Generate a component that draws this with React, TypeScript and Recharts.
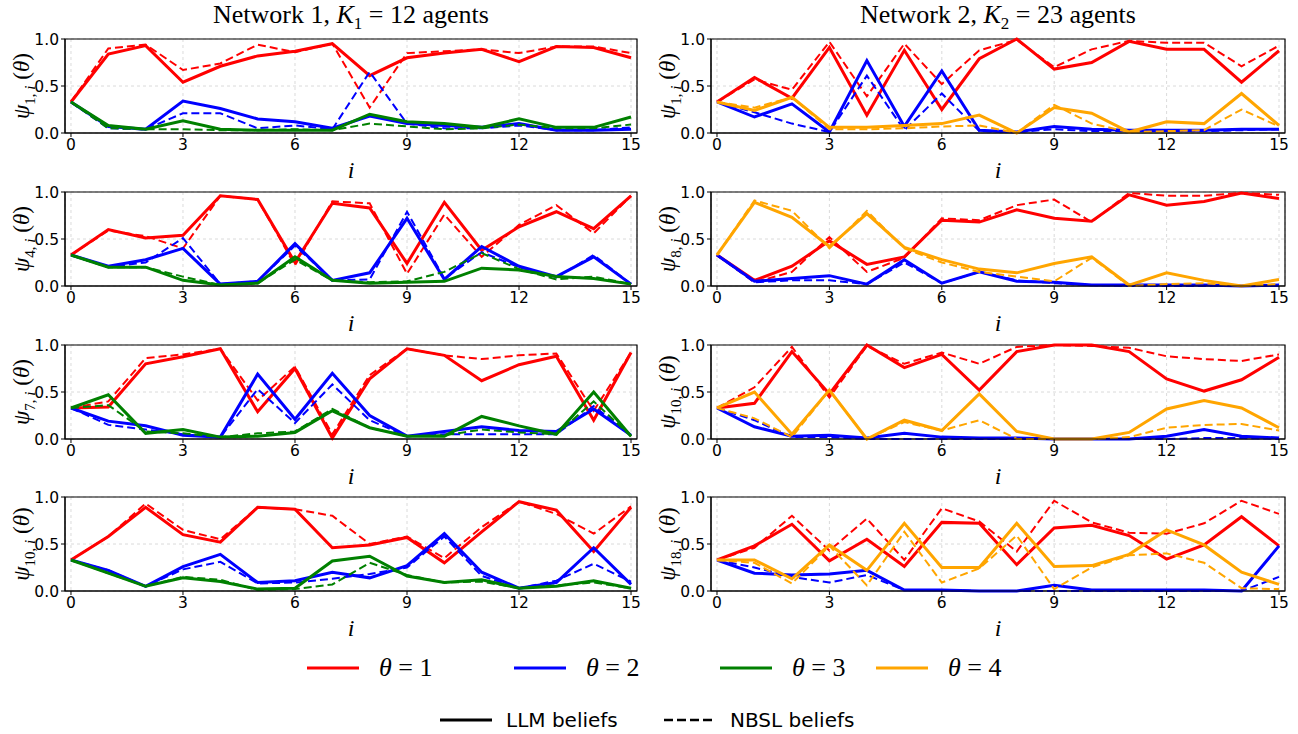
import React from "react";
import { LineChart, Line, XAxis, YAxis, CartesianGrid, ReferenceArea } from "recharts";

const steps = [0, 1, 2, 3, 4, 5, 6, 7, 8, 9, 10, 11, 12, 13, 14, 15];
const xTicks = [0, 3, 6, 9, 12, 15];
const yTicks = [0, 0.5, 1];

// Network 1, agent 1
const n1a1RedLLM = [0.33, 0.84, 0.93, 0.54, 0.71, 0.82, 0.87, 0.95, 0.61, 0.8, 0.85, 0.89, 0.76, 0.92, 0.91, 0.8];
const n1a1RedNBSL = [0.33, 0.9, 0.94, 0.67, 0.74, 0.94, 0.86, 0.95, 0.27, 0.85, 0.87, 0.89, 0.85, 0.92, 0.92, 0.85];
const n1a1BlueLLM = [0.33, 0.07, 0.04, 0.34, 0.26, 0.15, 0.12, 0.05, 0.18, 0.1, 0.08, 0.06, 0.1, 0.03, 0.03, 0.04];
const n1a1BlueNBSL = [0.33, 0.05, 0.04, 0.21, 0.21, 0.05, 0.08, 0.04, 0.65, 0.1, 0.05, 0.05, 0.08, 0.03, 0.03, 0.06];
const n1a1GreenLLM = [0.33, 0.08, 0.04, 0.13, 0.04, 0.03, 0.03, 0.03, 0.2, 0.12, 0.1, 0.06, 0.15, 0.06, 0.06, 0.17];
const n1a1GreenNBSL = [0.33, 0.05, 0.04, 0.04, 0.03, 0.03, 0.04, 0.03, 0.1, 0.07, 0.04, 0.05, 0.09, 0.05, 0.05, 0.09];

// Network 1, agent 4
const n1a4RedLLM = [0.33, 0.6, 0.51, 0.54, 0.96, 0.92, 0.25, 0.88, 0.83, 0.24, 0.89, 0.38, 0.63, 0.79, 0.61, 0.96];
const n1a4RedNBSL = [0.33, 0.59, 0.53, 0.4, 0.96, 0.92, 0.22, 0.9, 0.88, 0.13, 0.76, 0.31, 0.65, 0.86, 0.56, 0.96];
const n1a4BlueLLM = [0.33, 0.21, 0.28, 0.4, 0.02, 0.05, 0.45, 0.06, 0.14, 0.72, 0.07, 0.42, 0.21, 0.1, 0.31, 0.02];
const n1a4BlueNBSL = [0.33, 0.2, 0.25, 0.51, 0.02, 0.05, 0.43, 0.06, 0.07, 0.79, 0.08, 0.36, 0.2, 0.09, 0.33, 0.02];
const n1a4GreenLLM = [0.33, 0.2, 0.2, 0.06, 0.01, 0.03, 0.31, 0.06, 0.03, 0.04, 0.05, 0.19, 0.17, 0.1, 0.08, 0.02];
const n1a4GreenNBSL = [0.33, 0.2, 0.2, 0.1, 0.01, 0.03, 0.28, 0.06, 0.04, 0.05, 0.15, 0.35, 0.18, 0.07, 0.1, 0.02];

// Network 1, agent 7
const n1a7RedLLM = [0.33, 0.34, 0.8, 0.875, 0.96, 0.29, 0.75, 0.01, 0.64, 0.96, 0.89, 0.62, 0.79, 0.88, 0.2, 0.92];
const n1a7RedNBSL = [0.33, 0.4, 0.86, 0.9, 0.96, 0.41, 0.77, 0.05, 0.68, 0.96, 0.89, 0.85, 0.89, 0.91, 0.3, 0.92];
const n1a7BlueLLM = [0.33, 0.19, 0.14, 0.04, 0.02, 0.69, 0.21, 0.7, 0.25, 0.03, 0.08, 0.13, 0.09, 0.08, 0.32, 0.04];
const n1a7BlueNBSL = [0.33, 0.15, 0.1, 0.05, 0.02, 0.53, 0.17, 0.58, 0.2, 0.03, 0.05, 0.05, 0.05, 0.05, 0.35, 0.04];
const n1a7GreenLLM = [0.33, 0.47, 0.06, 0.1, 0.02, 0.03, 0.07, 0.3, 0.12, 0.03, 0.03, 0.24, 0.14, 0.05, 0.5, 0.03];
const n1a7GreenNBSL = [0.33, 0.36, 0.08, 0.06, 0.02, 0.06, 0.08, 0.32, 0.12, 0.03, 0.04, 0.1, 0.07, 0.05, 0.4, 0.03];

// Network 1, agent 10
const n1a10RedLLM = [0.33, 0.58, 0.89, 0.6, 0.52, 0.89, 0.87, 0.46, 0.49, 0.57, 0.3, 0.63, 0.95, 0.86, 0.42, 0.89];
const n1a10RedNBSL = [0.33, 0.58, 0.93, 0.65, 0.55, 0.89, 0.87, 0.8, 0.5, 0.58, 0.35, 0.68, 0.95, 0.82, 0.61, 0.9];
const n1a10BlueLLM = [0.33, 0.22, 0.05, 0.26, 0.39, 0.09, 0.11, 0.2, 0.14, 0.27, 0.61, 0.2, 0.03, 0.09, 0.46, 0.07];
const n1a10BlueNBSL = [0.33, 0.22, 0.05, 0.23, 0.31, 0.08, 0.09, 0.13, 0.18, 0.25, 0.58, 0.16, 0.03, 0.11, 0.29, 0.1];
const n1a10GreenLLM = [0.33, 0.19, 0.05, 0.14, 0.1, 0.02, 0.03, 0.32, 0.37, 0.16, 0.09, 0.12, 0.03, 0.05, 0.11, 0.03];
const n1a10GreenNBSL = [0.33, 0.19, 0.05, 0.15, 0.12, 0.01, 0.02, 0.07, 0.3, 0.17, 0.09, 0.1, 0.03, 0.06, 0.09, 0.03];

// Network 2, agent 1
const n2a1RedLLM = [0.33, 0.59, 0.37, 0.91, 0.19, 0.88, 0.25, 0.79, 1.0, 0.68, 0.75, 0.975, 0.89, 0.89, 0.54, 0.875];
const n2a1RedNBSL = [0.33, 0.57, 0.46, 0.97, 0.39, 0.95, 0.52, 0.88, 0.99, 0.7, 0.89, 0.98, 0.96, 0.96, 0.71, 0.93];
const n2a1BlueLLM = [0.33, 0.17, 0.31, 0.01, 0.77, 0.07, 0.66, 0.03, 0.01, 0.07, 0.04, 0.03, 0.03, 0.03, 0.04, 0.04];
const n2a1BlueNBSL = [0.33, 0.22, 0.1, 0.01, 0.61, 0.03, 0.42, 0.02, 0.01, 0.04, 0.02, 0.02, 0.02, 0.02, 0.03, 0.04];
const n2a1OrangeLLM = [0.33, 0.24, 0.38, 0.06, 0.06, 0.08, 0.1, 0.19, 0.0, 0.27, 0.21, 0.01, 0.12, 0.1, 0.42, 0.08];
const n2a1OrangeNBSL = [0.33, 0.27, 0.38, 0.04, 0.04, 0.05, 0.07, 0.08, 0.0, 0.3, 0.1, 0.01, 0.02, 0.03, 0.25, 0.07];

// Network 2, agent 8
const n2a8RedLLM = [0.33, 0.06, 0.21, 0.48, 0.23, 0.31, 0.7, 0.68, 0.81, 0.72, 0.69, 0.97, 0.86, 0.9, 0.99, 0.93];
const n2a8RedNBSL = [0.33, 0.04, 0.15, 0.52, 0.15, 0.3, 0.72, 0.7, 0.86, 0.92, 0.68, 0.99, 0.96, 0.96, 0.99, 0.97];
const n2a8BlueLLM = [0.33, 0.05, 0.08, 0.11, 0.02, 0.28, 0.03, 0.15, 0.05, 0.04, 0.01, 0.01, 0.01, 0.01, 0.0, 0.01];
const n2a8BlueNBSL = [0.33, 0.04, 0.06, 0.06, 0.02, 0.25, 0.03, 0.15, 0.06, 0.03, 0.01, 0.0, 0.0, 0.0, 0.0, 0.0];
const n2a8OrangeLLM = [0.33, 0.89, 0.73, 0.42, 0.77, 0.41, 0.28, 0.18, 0.14, 0.24, 0.31, 0.01, 0.14, 0.06, 0.0, 0.07];
const n2a8OrangeNBSL = [0.33, 0.91, 0.8, 0.4, 0.8, 0.4, 0.25, 0.15, 0.1, 0.05, 0.3, 0.0, 0.02, 0.03, 0.0, 0.02];

// Network 2, agent 10
const n2a10RedLLM = [0.33, 0.38, 0.93, 0.48, 1.0, 0.76, 0.9, 0.52, 0.93, 1.0, 1.0, 0.93, 0.64, 0.51, 0.63, 0.87];
const n2a10RedNBSL = [0.33, 0.55, 0.98, 0.44, 0.99, 0.8, 0.92, 0.8, 0.98, 1.0, 0.99, 0.97, 0.88, 0.85, 0.83, 0.9];
const n2a10BlueLLM = [0.33, 0.13, 0.03, 0.04, 0.01, 0.06, 0.02, 0.01, 0.01, 0.0, 0.0, 0.0, 0.03, 0.1, 0.03, 0.01];
const n2a10BlueNBSL = [0.33, 0.2, 0.02, 0.02, 0.0, 0.0, 0.0, 0.0, 0.0, 0.0, 0.0, 0.0, 0.0, 0.01, 0.01, 0.0];
const n2a10OrangeLLM = [0.33, 0.5, 0.05, 0.52, 0.0, 0.2, 0.09, 0.48, 0.08, 0.0, 0.0, 0.07, 0.32, 0.41, 0.33, 0.12];
const n2a10OrangeNBSL = [0.33, 0.22, 0.02, 0.52, 0.0, 0.18, 0.09, 0.2, 0.0, 0.0, 0.0, 0.02, 0.12, 0.15, 0.16, 0.09];

// Network 2, agent 18
const n2a18RedLLM = [0.33, 0.48, 0.71, 0.32, 0.55, 0.26, 0.73, 0.72, 0.28, 0.67, 0.7, 0.59, 0.34, 0.49, 0.79, 0.48];
const n2a18RedNBSL = [0.33, 0.46, 0.8, 0.43, 0.77, 0.33, 0.88, 0.74, 0.42, 0.96, 0.73, 0.62, 0.61, 0.72, 0.96, 0.82];
const n2a18BlueLLM = [0.33, 0.19, 0.17, 0.18, 0.22, 0.01, 0.01, 0.0, 0.0, 0.06, 0.01, 0.01, 0.01, 0.01, 0.0, 0.48];
const n2a18BlueNBSL = [0.33, 0.25, 0.15, 0.09, 0.17, 0.01, 0.01, 0.0, 0.0, 0.0, 0.0, 0.0, 0.0, 0.0, 0.0, 0.15];
const n2a18OrangeLLM = [0.33, 0.33, 0.13, 0.49, 0.22, 0.72, 0.25, 0.25, 0.72, 0.26, 0.27, 0.39, 0.65, 0.49, 0.2, 0.07];
const n2a18OrangeNBSL = [0.33, 0.3, 0.08, 0.48, 0.06, 0.63, 0.09, 0.24, 0.59, 0.02, 0.25, 0.38, 0.4, 0.3, 0.03, 0.02];

const RED = "#ff0000";
const BLUE = "#0000ff";
const GREEN = "#008000";
const ORANGE = "#ffa500";

type SeriesDef = { key: string; color: string; dashed: boolean; values: number[] };

function buildRows(series: SeriesDef[]) {
  return steps.map((s, idx) => {
    const row: Record<string, number> = { i: s };
    series.forEach((d) => {
      row[d.key] = d.values[idx];
    });
    return row;
  });
}

const TICK_FONT = { fontFamily: "DejaVu Sans", fontSize: 15.5, fill: "#000" };
const TOP_PAD = 14;

function Panel(props: { left: number; top: number; plotW: number; series: SeriesDef[] }) {
  const { left, top, plotW, series } = props;
  const plotH = 94;
  const yW = 65;
  const rows = buildRows(series);
  const W = yW + plotW + 14;
  const H = TOP_PAD + plotH + 32;
  return (
    <div style={{ position: "absolute", left: left - yW, top: top - TOP_PAD }}>
      <LineChart width={W} height={H} data={rows} margin={{ top: TOP_PAD, right: 14, bottom: 0, left: 0 }}>
        <CartesianGrid stroke="#d0d0d0" strokeDasharray="3 3" strokeWidth={0.8} />
        <XAxis
          dataKey="i"
          type="number"
          domain={[-0.16, 15.16]}
          ticks={xTicks}
          allowDataOverflow
          height={32}
          tick={TICK_FONT}
          tickSize={4}
          tickLine={{ stroke: "#000" }}
          axisLine={{ stroke: "#000" }}
          interval={0}
        />
        <YAxis
          type="number"
          domain={[0, 1]}
          ticks={yTicks}
          width={yW}
          tick={TICK_FONT}
          tickSize={4}
          tickLine={{ stroke: "#000" }}
          axisLine={{ stroke: "#000" }}
          tickFormatter={(v: number) => v.toFixed(1)}
          interval={0}
        />
        <ReferenceArea x1={-0.16} x2={15.16} y1={0} y2={1} fill="none" stroke="#000" strokeWidth={1.2} strokeOpacity={1} fillOpacity={0} />
        {series.map((d) => (
          <Line
            key={d.key}
            dataKey={d.key}
            type="linear"
            stroke={d.color}
            strokeWidth={d.dashed ? 2 : 3}
            strokeDasharray={d.dashed ? "8 4" : undefined}
            dot={false}
            activeDot={false}
            isAnimationActive={false}
          />
        ))}
      </LineChart>
    </div>
  );
}

function mk3(r: number[], rd: number[], b: number[], bd: number[], c: number[], cd: number[], third: string): SeriesDef[] {
  return [
    { key: "r", color: RED, dashed: false, values: r },
    { key: "rd", color: RED, dashed: true, values: rd },
    { key: "b", color: BLUE, dashed: false, values: b },
    { key: "bd", color: BLUE, dashed: true, values: bd },
    { key: "c", color: third, dashed: false, values: c },
    { key: "cd", color: third, dashed: true, values: cd },
  ];
}

const serif = "'Liberation Serif', 'DejaVu Serif', serif";

function YLabel(props: { x: number; cy: number; agent: string }) {
  return (
    <div
      style={{
        position: "absolute",
        left: props.x - 60,
        top: props.cy - 15,
        width: 120,
        height: 30,
        textAlign: "center",
        transform: "rotate(-90deg)",
        fontFamily: serif,
        fontSize: 23,
        lineHeight: "30px",
        whiteSpace: "nowrap",
      }}
    >
      <i>ψ</i>
      <sub style={{ fontSize: 15 }}>
        {props.agent}, <i>i</i>
      </sub>{" "}
      (<i>θ</i>)
    </div>
  );
}

function XLabel(props: { cx: number; cy: number }) {
  return (
    <div
      style={{
        position: "absolute",
        left: props.cx - 20,
        top: props.cy - 15,
        width: 40,
        textAlign: "center",
        fontFamily: serif,
        fontStyle: "italic",
        fontSize: 24,
        lineHeight: "30px",
      }}
    >
      i
    </div>
  );
}

function LegendItem(props: { x: number; y: number; color: string; dashed?: boolean; gap: number; children: React.ReactNode; font: string; size: number }) {
  return (
    <div style={{ position: "absolute", left: props.x, top: props.y - 16, height: 32, display: "flex", alignItems: "center" }}>
      <svg width={52} height={10} style={{ marginRight: props.gap }}>
        <line x1={0} y1={5} x2={52} y2={5} stroke={props.color} strokeWidth={props.dashed ? 2.5 : 3} strokeDasharray={props.dashed ? "9 4" : undefined} />
      </svg>
      <span style={{ fontFamily: props.font, fontSize: props.size, whiteSpace: "nowrap" }}>{props.children}</span>
    </div>
  );
}

export default function App() {
  const rowTops = [39, 192, 345, 497];
  const leftX = 65;
  const rightX = 711;
  const leftW = 572;
  const rightW = 574;

  const leftPanels = [
    { agent: "1", s: mk3(n1a1RedLLM, n1a1RedNBSL, n1a1BlueLLM, n1a1BlueNBSL, n1a1GreenLLM, n1a1GreenNBSL, GREEN) },
    { agent: "4", s: mk3(n1a4RedLLM, n1a4RedNBSL, n1a4BlueLLM, n1a4BlueNBSL, n1a4GreenLLM, n1a4GreenNBSL, GREEN) },
    { agent: "7", s: mk3(n1a7RedLLM, n1a7RedNBSL, n1a7BlueLLM, n1a7BlueNBSL, n1a7GreenLLM, n1a7GreenNBSL, GREEN) },
    { agent: "10", s: mk3(n1a10RedLLM, n1a10RedNBSL, n1a10BlueLLM, n1a10BlueNBSL, n1a10GreenLLM, n1a10GreenNBSL, GREEN) },
  ];
  const rightPanels = [
    { agent: "1", s: mk3(n2a1RedLLM, n2a1RedNBSL, n2a1BlueLLM, n2a1BlueNBSL, n2a1OrangeLLM, n2a1OrangeNBSL, ORANGE) },
    { agent: "8", s: mk3(n2a8RedLLM, n2a8RedNBSL, n2a8BlueLLM, n2a8BlueNBSL, n2a8OrangeLLM, n2a8OrangeNBSL, ORANGE) },
    { agent: "10", s: mk3(n2a10RedLLM, n2a10RedNBSL, n2a10BlueLLM, n2a10BlueNBSL, n2a10OrangeLLM, n2a10OrangeNBSL, ORANGE) },
    { agent: "18", s: mk3(n2a18RedLLM, n2a18RedNBSL, n2a18BlueLLM, n2a18BlueNBSL, n2a18OrangeLLM, n2a18OrangeNBSL, ORANGE) },
  ];

  const titleStyle: React.CSSProperties = { position: "absolute", top: -1, textAlign: "center", fontFamily: serif, fontSize: 26, lineHeight: "32px", whiteSpace: "nowrap" };

  return (
    <div style={{ position: "absolute", left: 0, top: 0, width: 1298, height: 734, background: "#fff", overflow: "hidden" }}>
      <div style={{ ...titleStyle, left: leftX - 40, width: leftW + 80 }}>
        Network 1, <i>K</i>
        <sub style={{ fontSize: 17 }}>1</sub> = 12 agents
      </div>
      <div style={{ ...titleStyle, left: rightX - 40, width: rightW + 80 }}>
        Network 2, <i>K</i>
        <sub style={{ fontSize: 17 }}>2</sub> = 23 agents
      </div>

      {leftPanels.map((p, k) => (
        <React.Fragment key={"l" + k}>
          <Panel left={leftX} top={rowTops[k]} plotW={leftW} series={p.s} />
          <YLabel x={22} cy={rowTops[k] + 47} agent={p.agent} />
          <XLabel cx={leftX + leftW / 2} cy={rowTops[k] + 131} />
        </React.Fragment>
      ))}
      {rightPanels.map((p, k) => (
        <React.Fragment key={"r" + k}>
          <Panel left={rightX} top={rowTops[k]} plotW={rightW} series={p.s} />
          <YLabel x={668} cy={rowTops[k] + 47} agent={p.agent} />
          <XLabel cx={rightX + rightW / 2} cy={rowTops[k] + 131} />
        </React.Fragment>
      ))}

      <LegendItem x={307} y={668} color={RED} gap={20} font={serif} size={26}>
        <i>θ</i> = 1
      </LegendItem>
      <LegendItem x={514} y={668} color={BLUE} gap={20} font={serif} size={26}>
        <i>θ</i> = 2
      </LegendItem>
      <LegendItem x={720} y={668} color={GREEN} gap={20} font={serif} size={26}>
        <i>θ</i> = 3
      </LegendItem>
      <LegendItem x={876} y={668} color={ORANGE} gap={20} font={serif} size={26}>
        <i>θ</i> = 4
      </LegendItem>
      <LegendItem x={440} y={720} color="#000" gap={14} font="'DejaVu Sans', sans-serif" size={20}>
        LLM beliefs
      </LegendItem>
      <LegendItem x={664} y={720} color="#000" dashed gap={14} font="'DejaVu Sans', sans-serif" size={20}>
        NBSL beliefs
      </LegendItem>
    </div>
  );
}
